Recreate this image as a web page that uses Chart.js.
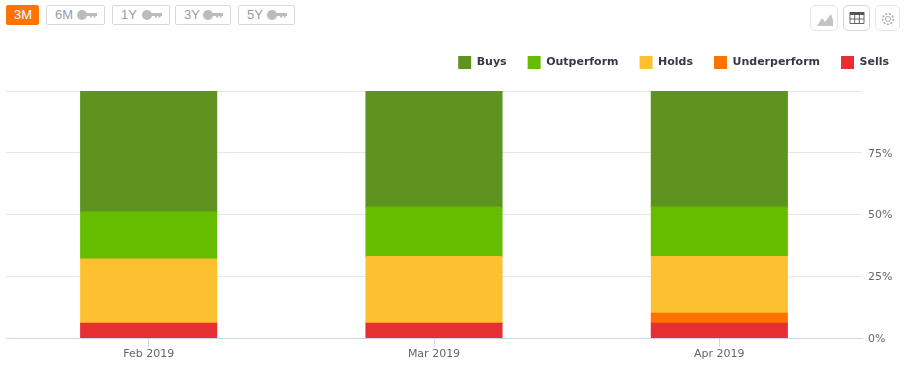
<!DOCTYPE html>
<html>
<head>
<meta charset="utf-8">
<script src="https://cdn.jsdelivr.net/npm/chart.js@4"></script>
<style>
  html, body { margin: 0; padding: 0; background: #fff; }
  #wrap { position: relative; width: 906px; height: 370px; overflow: hidden; font-family: "Liberation Sans", Arial, sans-serif; }
  #wrap canvas { position: absolute; left: 0; top: 0; }
  .btn { position: absolute; top: 5px; height: 20px; box-sizing: border-box; border: 1px solid #d8d8d8; border-radius: 2px;
    color: #9a9aa6; font-size: 13px; line-height: 18px; padding-left: 8px; white-space: nowrap; background: #fff; }
  .btn.on { background: #ff7300; border-color: #ff7300; color: #fff; padding-left: 7px; }
  .btn svg { position: absolute; right: 7px; top: 4px; }
  .tool { position: absolute; top: 5px; height: 26px; box-sizing: border-box; border: 1px solid #e6e6e6; border-radius: 5px; background: #fff; }
  .tool svg { position: absolute; left: 5px; top: 5px; }
</style>
</head>
<body>
<div id="wrap">
  <canvas id="chart" width="906" height="370"></canvas>
  <div class="btn on" style="left:6px;width:33px">3M</div>
  <div class="btn" style="left:46px;width:59px">6M<svg width="20" height="10" viewBox="0 0 20 10"><circle cx="5" cy="5" r="5" fill="#bbb"/><path d="M9 3h11v3h-1.500v1.500h-2v-1.500h-1.500v1.500h-2v-1.500h-4z" fill="#bbb"/></svg></div>
  <div class="btn" style="left:112px;width:58px">1Y<svg width="20" height="10" viewBox="0 0 20 10"><circle cx="5" cy="5" r="5" fill="#bbb"/><path d="M9 3h11v3h-1.500v1.500h-2v-1.500h-1.500v1.500h-2v-1.500h-4z" fill="#bbb"/></svg></div>
  <div class="btn" style="left:175px;width:56px">3Y<svg width="20" height="10" viewBox="0 0 20 10"><circle cx="5" cy="5" r="5" fill="#bbb"/><path d="M9 3h11v3h-1.500v1.500h-2v-1.500h-1.500v1.500h-2v-1.500h-4z" fill="#bbb"/></svg></div>
  <div class="btn" style="left:238px;width:57px">5Y<svg width="20" height="10" viewBox="0 0 20 10"><circle cx="5" cy="5" r="5" fill="#bbb"/><path d="M9 3h11v3h-1.500v1.500h-2v-1.500h-1.500v1.500h-2v-1.500h-4z" fill="#bbb"/></svg></div>
  <div class="tool" style="left:810px;width:28px"><svg width="18" height="16" viewBox="0 0 18 16"><path d="M1 15 L6 7 L9 11 L15 3 L17 9 V15 Z" fill="#c4c4c4"/></svg></div>
  <div class="tool" style="left:843px;width:27px;border-color:#d4d4d4"><svg width="16" height="16" viewBox="0 0 16 16"><rect x="0.500" y="1" width="15" height="3" fill="#555"/><path d="M1 4v8.500h14v-8.500M1 8h14M5.700 4v8.500M10.300 4v8.500" fill="none" stroke="#666" stroke-width="1"/></svg></div>
  <div class="tool" style="left:875px;width:25px"><svg width="14" height="16" viewBox="0 0 14 16"><circle cx="7" cy="8" r="2.500" fill="none" stroke="#aaa"/><circle cx="7" cy="8" r="5.300" fill="none" stroke="#aaa" stroke-width="1.600" stroke-dasharray="2 1.600"/></svg></div>
</div>
<script>
const categories = ["Feb 2019", "Mar 2019", "Apr 2019"];
const sells = [6, 6, 6];
const underperform = [null, null, 4];
const holds = [26, 27, 23];
const outperform = [19, 20, 20];
const buys = [49, 47, 47];

const seriesColors = {
  buys: "#5e9320",
  outperform: "#66bd00",
  holds: "#fdc030",
  underperform: "#ff7300",
  sells: "#e62e33",
};

const textColor = "#666666";

const makeSet = (label, values, color) => ({
  label,
  data: values,
  backgroundColor: color,
  borderWidth: 0,
  inflateAmount: 0.5,
  barPercentage: 1,
  categoryPercentage: 0.477,
});

// extra room between the legend and the plot, and push it to the right edge
const legendGap = {
  id: "legendGap",
  beforeInit(chart) {
    const fit = chart.legend.fit;
    chart.legend.fit = function () {
      fit.bind(this)();
      this.height += 12;
    };
  },
  afterLayout(chart) {
    chart.legend.left += 4;
    chart.legend.right += 4;
  },
};

new Chart(document.getElementById("chart").getContext("2d"), {
  type: "bar",
  plugins: [legendGap],
  data: {
    labels: categories,
    // chart.js stacks the first dataset at the bottom
    datasets: [
      makeSet("Sells", sells, seriesColors.sells),
      makeSet("Underperform", underperform, seriesColors.underperform),
      makeSet("Holds", holds, seriesColors.holds),
      makeSet("Outperform", outperform, seriesColors.outperform),
      makeSet("Buys", buys, seriesColors.buys),
    ],
  },
  options: {
    responsive: false,
    animation: false,
    layout: {
      padding: { left: 6, top: 35, right: 0, bottom: 0 },
    },
    plugins: {
      tooltip: { enabled: false },
      legend: {
        position: "top",
        align: "end",
        reverse: true,
        labels: {
          boxWidth: 13,
          boxHeight: 13,
          padding: 21,
          color: "#333a45",
          font: { family: "DejaVu Sans", size: 11, weight: "bold" },
        },
      },
    },
    scales: {
      x: {
        stacked: true,
        border: { color: "#ccd6eb" },
        grid: {
          offset: false,
          drawOnChartArea: false,
          color: "#ccd6eb",
          tickLength: 9,
        },
        ticks: {
          color: textColor,
          padding: 1,
          maxRotation: 0,
          font: { family: "DejaVu Sans", size: 11 },
        },
        afterFit: (scale) => {
          scale.height = 32;
        },
      },
      y: {
        stacked: true,
        position: "right",
        min: 0,
        max: 100,
        border: { display: false },
        grid: {
          color: "#e6e6e6",
          drawTicks: false,
        },
        ticks: {
          stepSize: 25,
          color: textColor,
          padding: 6,
          labelOffset: 1,
          font: { family: "DejaVu Sans", size: 11 },
          callback: function (value) {
            return value === 100 ? "" : value + "%";
          },
        },
        afterFit: (scale) => {
          scale.width = 44;
        },
      },
    },
  },
});
</script>
</body>
</html>
